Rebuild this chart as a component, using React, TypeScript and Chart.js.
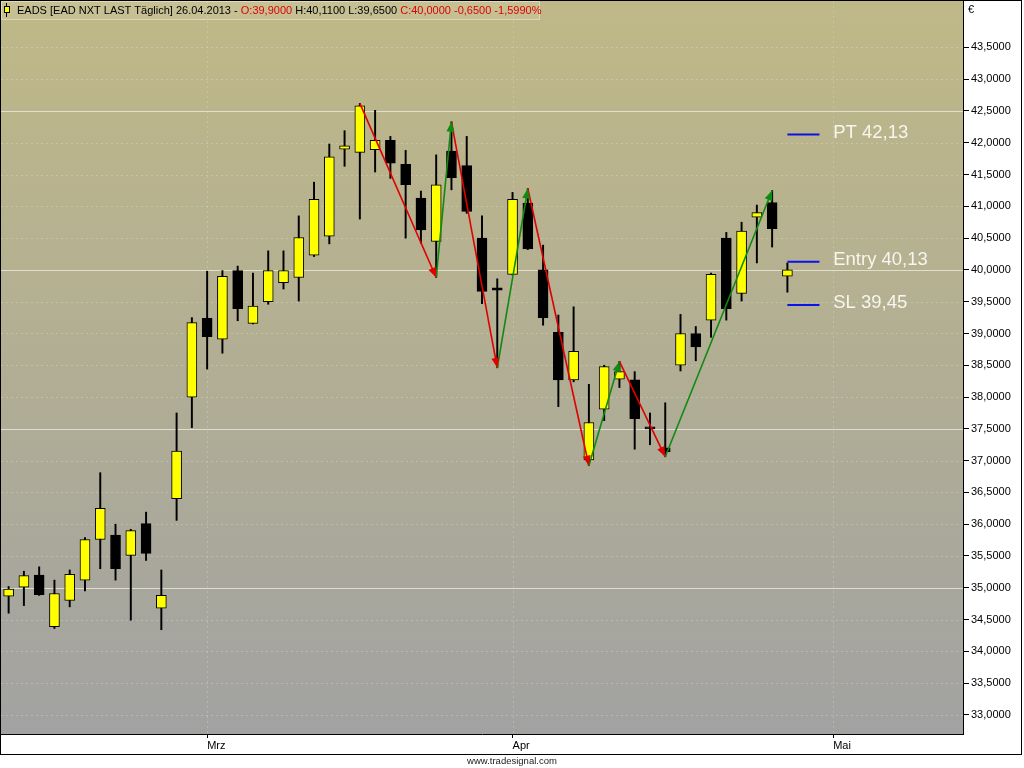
import { useEffect, useRef } from 'react';
import { Chart, registerables } from 'chart.js';

Chart.register(...registerables);

// ---------- data ----------
const dates = [
  '12.02.2013', '13.02.2013', '14.02.2013', '15.02.2013', '18.02.2013', '19.02.2013', '20.02.2013',
  '21.02.2013', '22.02.2013', '25.02.2013', '26.02.2013', '27.02.2013', '28.02.2013',
  '01.03.2013', '04.03.2013', '05.03.2013', '06.03.2013', '07.03.2013', '08.03.2013', '11.03.2013',
  '12.03.2013', '13.03.2013', '14.03.2013', '15.03.2013', '18.03.2013', '19.03.2013', '20.03.2013',
  '21.03.2013', '22.03.2013', '25.03.2013', '26.03.2013', '27.03.2013', '28.03.2013',
  '02.04.2013', '03.04.2013', '04.04.2013', '05.04.2013', '08.04.2013', '09.04.2013', '10.04.2013',
  '11.04.2013', '12.04.2013', '15.04.2013', '16.04.2013', '17.04.2013', '18.04.2013', '19.04.2013',
  '22.04.2013', '23.04.2013', '24.04.2013', '25.04.2013', '26.04.2013',
];
const opens = [
  34.87, 35.01, 35.20, 34.39, 34.80, 35.12, 35.76, 35.83, 35.51, 36.01, 34.68, 36.40, 38.00,
  39.24, 38.91, 39.99, 39.16, 39.50, 39.80, 39.88, 40.23, 40.53, 41.90, 41.85, 41.89, 42.04, 41.66,
  41.13, 40.45, 41.87, 41.64, 40.50, 39.72,
  39.93, 41.05, 40.00, 39.02, 38.27, 37.01, 37.81, 38.28, 38.27, 37.53, 37.20, 38.50, 39.00, 39.21,
  40.50, 39.63, 40.83, 41.06, 39.90,
];
const highs = [
  35.02, 35.26, 35.33, 35.12, 35.28, 35.79, 36.81, 36.00, 35.92, 36.19, 35.28, 37.75, 39.25,
  39.98, 39.99, 40.06, 39.95, 40.30, 40.30, 40.85, 41.38, 41.98, 42.19, 42.62, 42.51, 42.10, 41.88,
  41.24, 41.81, 42.33, 42.10, 40.85, 39.86,
  41.22, 41.28, 40.39, 39.29, 39.42, 38.20, 38.50, 38.56, 38.40, 37.75, 37.91, 39.30, 39.11, 39.95,
  40.59, 40.75, 41.02, 41.25, 40.11,
];
const lows = [
  34.60, 34.72, 34.88, 34.36, 34.70, 34.95, 35.30, 35.12, 34.49, 35.43, 34.34, 36.06, 37.52,
  38.44, 38.69, 39.20, 39.15, 39.46, 39.70, 39.51, 40.21, 40.41, 41.63, 40.80, 41.54, 41.44, 40.50,
  40.42, 39.88, 41.26, 40.89, 39.47, 38.46,
  39.92, 40.32, 39.13, 37.85, 38.24, 36.92, 37.63, 38.15, 37.18, 37.25, 37.06, 38.41, 38.57, 38.94,
  39.21, 39.51, 40.11, 40.36, 39.65,
];
const closes = [
  34.98, 35.19, 34.89, 34.91, 35.21, 35.76, 36.25, 35.30, 35.90, 35.54, 34.88, 37.15, 39.17,
  38.95, 39.90, 39.39, 39.43, 39.99, 39.99, 40.51, 41.11, 41.78, 41.95, 42.58, 42.04, 41.68, 41.34,
  40.63, 41.34, 41.45, 40.92, 39.66, 39.68,
  41.11, 40.33, 39.25, 38.27, 38.72, 37.60, 38.48, 38.40, 37.66, 37.50, 37.14, 39.00, 38.79, 39.93,
  39.39, 40.61, 40.90, 40.65, 40.00,
];

// zigzag pivots (candle index + which extreme)
const pivotIdx = [23, 28, 29, 32, 34, 38, 40, 43, 50];
const pivotKind = ['H', 'L', 'H', 'L', 'H', 'L', 'H', 'L', 'H'];

// trade levels
const levelNames = ['PT', 'Entry', 'SL'];
const levelValues = [42.13, 40.13, 39.45];
const levelFrom = 51;
const levelTo = 53.1;
const levelLabelAt = 54;

// axes
const monthTickIdx = [13, 33, 54];
const monthLabels = ['Mrz', 'Apr', 'Mai'];
const priceTicks = [
  33, 33.5, 34, 34.5, 35, 35.5, 36, 36.5, 37, 37.5, 38, 38.5, 39, 39.5, 40, 40.5, 41, 41.5, 42, 42.5,
  43, 43.5,
];
const solidGridPrices = [35, 37.5, 40, 42.5];
const xMin = -0.5;
const xMax = 62.5;
const yMin = 32.7;
const yMax = 44.23;

const titleParts = [
  { t: 'EADS [EAD NXT LAST Täglich] 26.04.2013 - ', c: '#000000' },
  { t: 'O:39,9000', c: '#e00000' },
  { t: ' H:40,1100 L:39,6500 ', c: '#000000' },
  { t: 'C:40,0000 -0,6500 -1,5990%', c: '#e00000' },
];
const footerText = 'www.tradesignal.com';
const currencyText = '€';

const FONT = '"Liberation Sans", Arial, sans-serif';
const UP = '#ffff00';
const DOWN = '#000000';
const RED = '#e00000';
const GREEN = '#108a10';
const BLUE = '#0a14e6';

const fmt = (v: number, d: number) => v.toFixed(d).replace('.', ',');

const zigzagPoints = pivotIdx.map((ix, k) => ({
  x: ix,
  y: pivotKind[k] === 'H' ? highs[ix] : lows[ix],
}));

const decorPlugin = {
  id: 'decor',
  beforeDraw(chart: any) {
    const { ctx, chartArea: a, scales } = chart;
    const W = chart.width;
    const H = chart.height;
    ctx.save();
    ctx.fillStyle = '#ffffff';
    ctx.fillRect(0, 0, W, H);
    const g = ctx.createLinearGradient(0, a.top, 0, a.bottom);
    g.addColorStop(0, '#bfb887');
    g.addColorStop(0.45, '#b3af93');
    g.addColorStop(1, '#a2a2a2');
    ctx.fillStyle = g;
    ctx.fillRect(a.left, a.top, a.right - a.left, a.bottom - a.top);

    // horizontal grid
    ctx.lineWidth = 1;
    priceTicks.forEach((v) => {
      const y = Math.round(scales.y.getPixelForValue(v)) + 0.5;
      if (solidGridPrices.includes(v)) {
        ctx.setLineDash([]);
        ctx.strokeStyle = 'rgba(232,232,215,0.85)';
      } else {
        ctx.setLineDash([2, 3]);
        ctx.strokeStyle = 'rgba(220,220,200,0.4)';
      }
      ctx.beginPath();
      ctx.moveTo(a.left, y);
      ctx.lineTo(a.right, y);
      ctx.stroke();
    });
    // vertical month grid
    ctx.setLineDash([2, 3]);
    ctx.strokeStyle = 'rgba(220,220,200,0.35)';
    monthTickIdx.forEach((v) => {
      const x = Math.round(scales.x.getPixelForValue(v)) + 0.5;
      ctx.beginPath();
      ctx.moveTo(x, a.top);
      ctx.lineTo(x, a.bottom);
      ctx.stroke();
    });
    ctx.restore();
  },
  afterDatasetsDraw(chart: any) {
    const { ctx, scales } = chart;
    ctx.save();
    // arrow heads on zigzag
    const meta = chart.getDatasetMeta(2);
    const pts = meta.data;
    for (let i = 1; i < pts.length; i++) {
      const p0 = pts[i - 1];
      const p1 = pts[i];
      const ang = Math.atan2(p1.y - p0.y, p1.x - p0.x);
      const len = 10;
      const hw = 4;
      const bx = p1.x - len * Math.cos(ang);
      const by = p1.y - len * Math.sin(ang);
      ctx.fillStyle = pivotKind[i] === 'H' ? GREEN : RED;
      ctx.beginPath();
      ctx.moveTo(p1.x, p1.y);
      ctx.lineTo(bx + hw * Math.sin(ang), by - hw * Math.cos(ang));
      ctx.lineTo(bx - hw * Math.sin(ang), by + hw * Math.cos(ang));
      ctx.closePath();
      ctx.fill();
    }
    // level labels
    ctx.fillStyle = '#f6f6ee';
    ctx.font = `18.5px ${FONT}`;
    ctx.textAlign = 'left';
    ctx.textBaseline = 'middle';
    levelNames.forEach((n, i) => {
      const x = scales.x.getPixelForValue(levelLabelAt);
      const y = scales.y.getPixelForValue(levelValues[i]);
      ctx.fillText(`${n} ${fmt(levelValues[i], 2)}`, x, y - 2);
    });
    ctx.restore();
  },
  afterDraw(chart: any) {
    const { ctx, chartArea: a } = chart;
    ctx.save();
    // title box
    ctx.fillStyle = 'rgba(255,255,235,0.12)';
    ctx.fillRect(a.left, a.top, 538, 18);
    ctx.strokeStyle = 'rgba(255,255,240,0.45)';
    ctx.lineWidth = 1;
    ctx.strokeRect(a.left + 0.5, a.top + 0.5, 538, 18);
    // icon
    ctx.strokeStyle = '#000';
    ctx.beginPath();
    ctx.moveTo(6.5, 3);
    ctx.lineTo(6.5, 17);
    ctx.stroke();
    ctx.fillStyle = UP;
    ctx.fillRect(4, 6, 6, 7);
    ctx.strokeRect(4.5, 6.5, 5, 6);
    // title text
    ctx.font = `11px ${FONT}`;
    ctx.textBaseline = 'middle';
    ctx.textAlign = 'left';
    let x = 17;
    titleParts.forEach((p) => {
      ctx.fillStyle = p.c;
      ctx.fillText(p.t, x, 10.5);
      x += ctx.measureText(p.t).width;
    });
    // currency
    ctx.fillStyle = '#000';
    ctx.fillText(currencyText, 968, 10);
    // outer border
    ctx.strokeStyle = '#000';
    ctx.lineWidth = 1;
    ctx.strokeRect(0.5, 0.5, 1021, 754);
    // footer
    ctx.font = `9.5px ${FONT}`;
    ctx.textAlign = 'center';
    ctx.fillStyle = '#222';
    ctx.fillText(footerText, 512, 761.5);
    ctx.restore();
  },
};

export default function App() {
  const ref = useRef<HTMLCanvasElement>(null);
  useEffect(() => {
    document.body.style.margin = '0';
    document.body.style.overflow = 'hidden';
    const idx = dates.map((_, i) => i);
    const chart = new Chart(ref.current as HTMLCanvasElement, {
      type: 'bar',
      data: {
        datasets: [
          {
            type: 'bar',
            label: 'body',
            data: idx.map((i) => ({ x: i, y: [opens[i], closes[i]] })) as any,
            backgroundColor: idx.map((i) => (closes[i] >= opens[i] ? UP : DOWN)),
            borderColor: '#000',
            borderWidth: 1,
            borderSkipped: false,
            barThickness: 10,
            grouped: false,
            order: 1,
          },
          {
            type: 'bar',
            label: 'wick',
            data: idx.map((i) => ({ x: i, y: [lows[i], highs[i]] })) as any,
            backgroundColor: '#000',
            borderWidth: 0,
            barThickness: 1.3,
            grouped: false,
            order: 2,
          },
          {
            type: 'line',
            label: 'zigzag',
            data: zigzagPoints as any,
            borderWidth: 1.6,
            pointRadius: 0,
            borderColor: RED,
            segment: {
              borderColor: (c: any) => (c.p1.parsed.y > c.p0.parsed.y ? GREEN : RED),
            },
            order: 0,
          },
          ...levelValues.map((v, i) => ({
            type: 'line' as const,
            label: levelNames[i],
            data: [
              { x: levelFrom, y: v },
              { x: levelTo, y: v },
            ] as any,
            borderColor: BLUE,
            borderWidth: 2,
            pointRadius: 0,
            order: 0,
          })),
        ],
      },
      options: {
        animation: false,
        responsive: false,
        devicePixelRatio: 1,
        layout: { padding: { left: 1, top: 1, right: 2, bottom: 14 } },
        plugins: { legend: { display: false }, tooltip: { enabled: false } },
        events: [],
        scales: {
          x: {
            type: 'linear',
            min: xMin,
            max: xMax,
            offset: false,
            afterBuildTicks: (s: any) => {
              s.ticks = monthTickIdx.map((v) => ({ value: v }));
            },
            afterFit: (s: any) => {
              s.height = 20;
              s.paddingLeft = 0;
              s.paddingRight = 0;
            },
            ticks: {
              autoSkip: false,
              maxRotation: 0,
              minRotation: 0,
              align: 'start',
              padding: 1,
              color: '#000',
              font: { family: FONT, size: 11 },
              callback: (v: any) => {
                const k = monthTickIdx.indexOf(Number(v));
                return k >= 0 ? monthLabels[k] : '';
              },
            },
            grid: {
              offset: false,
              drawOnChartArea: false,
              drawTicks: true,
              tickLength: 4,
              tickColor: '#000',
              tickWidth: 1,
            },
            border: { display: true, color: '#000', width: 1 },
          },
          y: {
            type: 'linear',
            position: 'right',
            min: yMin,
            max: yMax,
            afterBuildTicks: (s: any) => {
              s.ticks = priceTicks.map((v) => ({ value: v }));
            },
            afterFit: (s: any) => {
              s.width = 59;
              s.paddingTop = 0;
              s.paddingBottom = 0;
            },
            ticks: {
              autoSkip: false,
              padding: 2,
              color: '#000',
              font: { family: FONT, size: 11 },
              callback: (v: any) => fmt(Number(v), 4),
            },
            grid: { drawOnChartArea: false, drawTicks: true, tickLength: 6, tickColor: '#000', tickWidth: 1 },
            border: { display: true, color: '#000', width: 1 },
          },
        },
      } as any,
      plugins: [decorPlugin],
    });
    return () => chart.destroy();
  }, []);
  return (
    <div style={{ position: 'absolute', left: 0, top: 0, width: 1024, height: 768 }}>
      <canvas ref={ref} width={1024} height={768} style={{ display: 'block', width: 1024, height: 768 }} />
    </div>
  );
}
